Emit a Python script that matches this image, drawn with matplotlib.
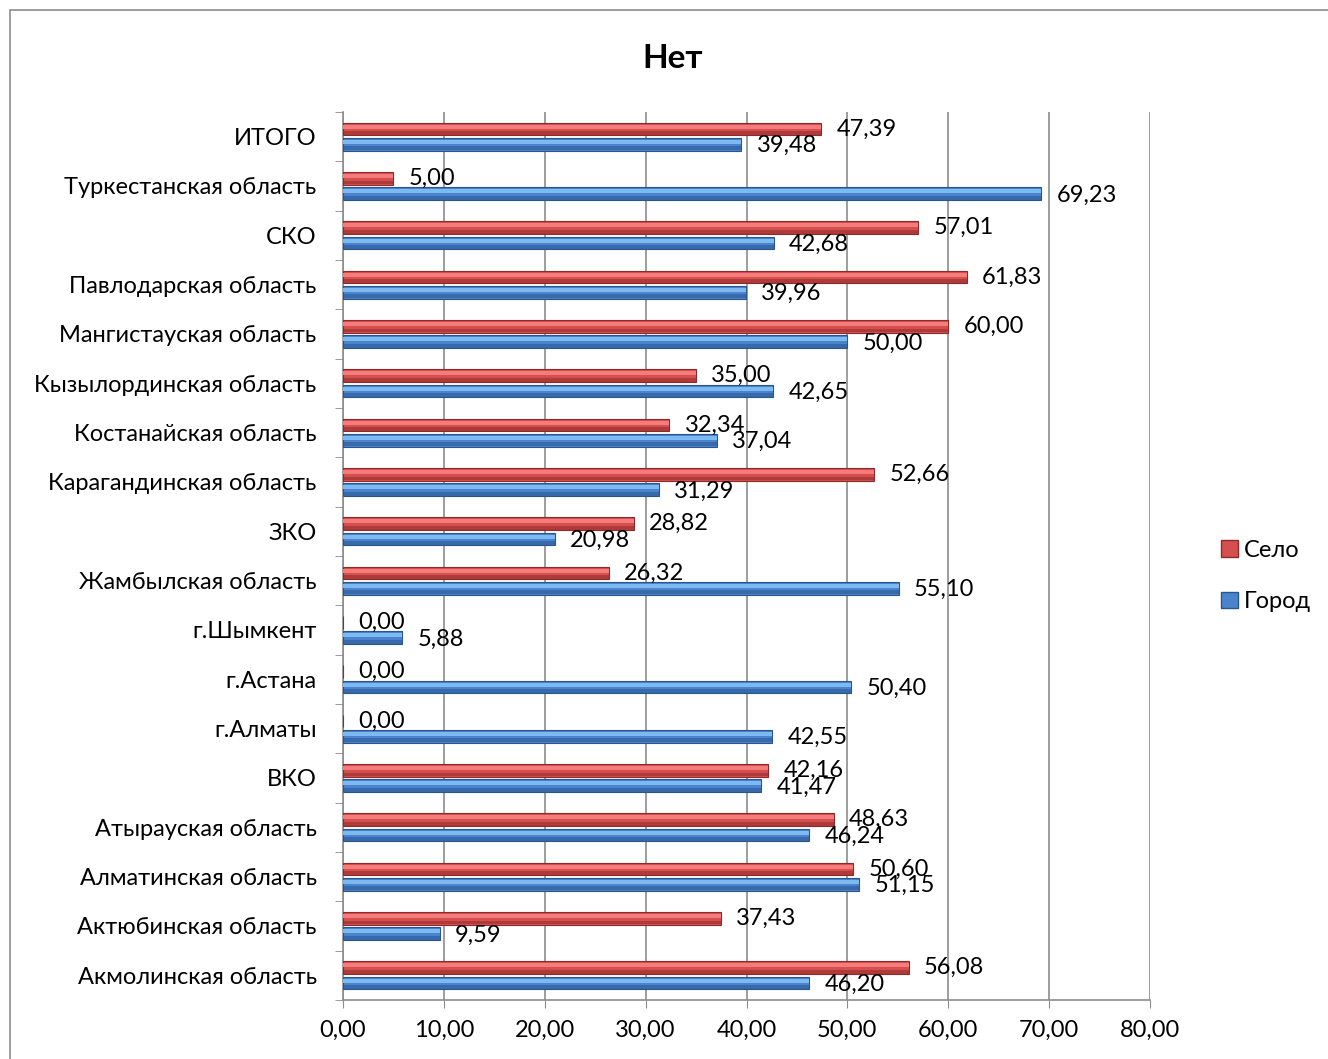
import matplotlib
matplotlib.use("Agg")
import matplotlib.pyplot as plt
from matplotlib.patches import Rectangle
import numpy as np

categories = ["Акмолинская область", "Актюбинская область", "Алматинская область",
              "Атырауская область", "ВКО", "г.Алматы", "г.Астана", "г.Шымкент",
              "Жамбылская область", "ЗКО", "Карагандинская область",
              "Костанайская область", "Кызылординская область",
              "Мангистауская область", "Павлодарская область", "СКО",
              "Туркестанская область", "ИТОГО"]
selo = [56.08, 37.43, 50.60, 48.63, 42.16, 0.00, 0.00, 0.00, 26.32, 28.82,
        52.66, 32.34, 35.00, 60.00, 61.83, 57.01, 5.00, 47.39]
gorod = [46.20, 9.59, 51.15, 46.24, 41.47, 42.55, 50.40, 5.88, 55.10, 20.98,
         31.29, 37.04, 42.65, 50.00, 39.96, 42.68, 69.23, 39.48]
xticks = [0, 10, 20, 30, 40, 50, 60, 70, 80]

plt.rcParams['font.family'] = ['Lato', 'DejaVu Sans']
FS = 17

fig = plt.figure(figsize=(13.28, 10.59), dpi=100)
ax = fig.add_axes([343/1328, 1 - 1000/1059, (1150-343)/1328, (1000-112)/1059])

# outer chart border
fig.patches.append(Rectangle((10/1328, -0.01), 1.2, (1059-10)/1059 + 0.01,
                             transform=fig.transFigure, fill=False,
                             edgecolor='#8c8c8c', linewidth=1.2))

y = np.arange(len(categories))
h = 0.26
off = 0.155

def draw(vals, ypos, main, light, dark):
    ax.barh(ypos, vals, height=h, color=main, edgecolor=dark, linewidth=0.8, zorder=3)
    ax.barh(ypos + h*0.18, vals, height=h*0.32, color=light, linewidth=0, zorder=4)
    ax.barh(ypos - h*0.32, vals, height=h*0.3, color=dark, linewidth=0, alpha=0.55, zorder=4)

draw(selo, y + off, '#D64F4F', '#F47C7C', '#8E2A2A')
draw(gorod, y - off, '#4A84CC', '#7DBAF2', '#2A5690')

for i in range(len(categories)):
    ax.annotate(f"{selo[i]:.2f}".replace('.', ','), (selo[i], y[i] + off),
                xytext=(11, 0), textcoords='offset points', ha='left', va='center',
                fontsize=FS, zorder=5)
    ax.annotate(f"{gorod[i]:.2f}".replace('.', ','), (gorod[i], y[i] - off),
                xytext=(11, -1), textcoords='offset points', ha='left', va='center',
                fontsize=FS, zorder=5)

ax.set_xlim(0, 80)
ax.set_ylim(-0.5, len(categories) - 0.5)
ax.set_xticks(xticks)
ax.set_xticklabels([f"{v:.2f}".replace('.', ',') for v in xticks], fontsize=FS)
ax.set_yticks(y)
ax.set_yticklabels(categories, fontsize=FS)
ax.set_yticks(np.arange(-0.5, len(categories)), minor=True)
ax.tick_params(axis='y', which='major', length=0, pad=19)
ax.tick_params(axis='y', which='minor', length=6, color='#8c8c8c')
ax.tick_params(axis='x', length=6, color='#8c8c8c', pad=8)
ax.grid(axis='x', color='#8c8c8c', linewidth=1.2, zorder=0)
for s in ['top', 'right']:
    ax.spines[s].set_visible(False)
for s in ['left', 'bottom']:
    ax.spines[s].set_color('#8c8c8c')
    ax.spines[s].set_linewidth(1.2)

fig.text(673/1328, 1 - 58/1059, "Нет", fontsize=24, fontweight='bold',
         ha='center', va='center')

handles = [Rectangle((0, 0), 1, 1, facecolor='#D64F4F', edgecolor='#8E2A2A'),
           Rectangle((0, 0), 1, 1, facecolor='#4A84CC', edgecolor='#2A5690')]
fig.legend(handles, ["Село", "Город"], loc='center left',
           bbox_to_anchor=(1200/1328, 1 - 576/1059), frameon=False,
           fontsize=FS, handlelength=0.7, handleheight=0.7,
           handletextpad=0.25, labelspacing=1.3)

fig.savefig("out.png", dpi=100)
